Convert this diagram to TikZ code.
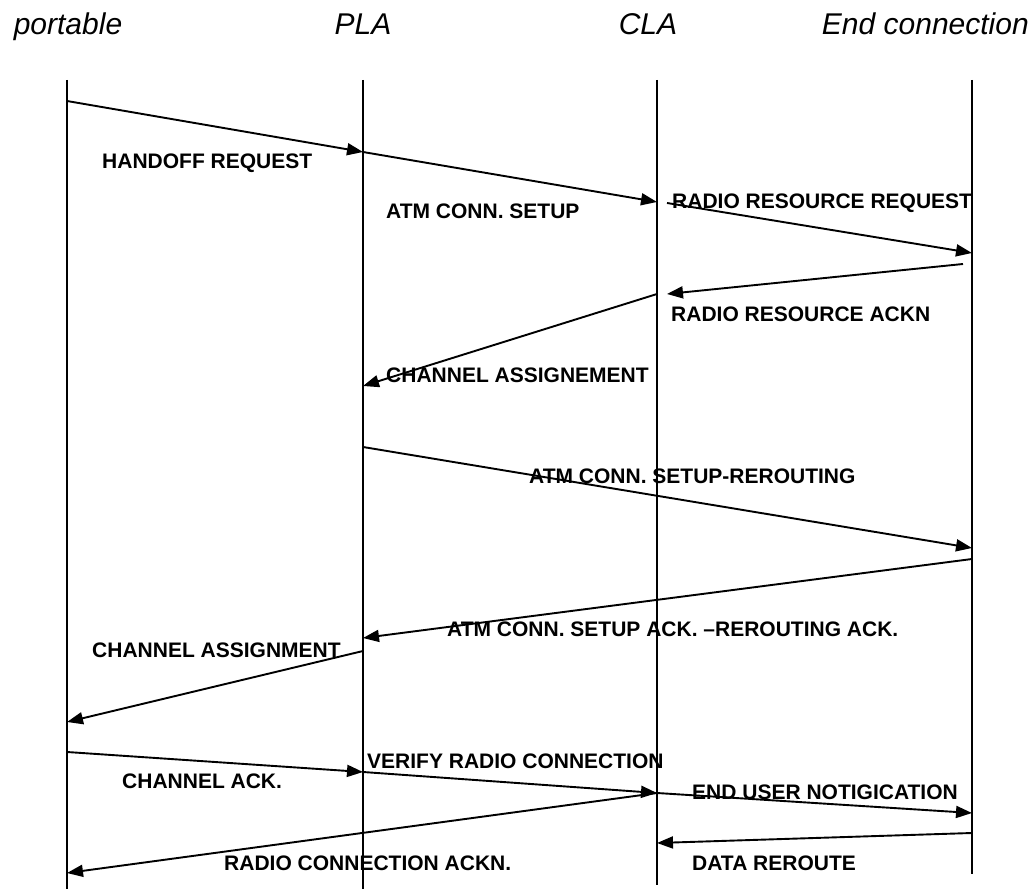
\documentclass[tikz,border=0pt]{standalone}
\usepackage{fontspec}
\setmainfont{Liberation Sans}
\usepackage{tikz}
\usetikzlibrary{arrows.meta}
\usetikzlibrary{calc}
\tikzstyle{actor} = [font=\fontsize{30}{30}\selectfont\itshape, inner sep=0pt, anchor=base]
\tikzstyle{msg} = [font=\fontsize{21}{21}\selectfont\bfseries, inner sep=0pt, anchor=base west]
\tikzstyle{lifeline} = [draw, line width=1.8pt]
\tikzstyle{line} = [draw, line width=1.9pt, -{Triangle[length=16pt, width=12pt]}]

\begin{document}
\begin{tikzpicture}[x=1pt, y=-1pt]
    \useasboundingbox (0,0) rectangle (1034,890);
    % Actors
    \node [actor] (portable) at (68,35) {portable};
    \node [actor] (pla) at (363,35) {PLA};
    \node [actor] (cla) at (648,35) {CLA};
    \node [actor, anchor=base east] (endconn) at (1029,35) {End connection};
    % Lifelines
    \coordinate (ptop) at (67,80);   \coordinate (pbot) at (67,889);
    \coordinate (platop) at (363,80); \coordinate (plabot) at (363,889);
    \coordinate (clatop) at (657,80); \coordinate (clabot) at (657,885);
    \coordinate (endtop) at (972,80); \coordinate (endbot) at (972,874);
    \path[lifeline] (ptop) -- (pbot);
    \path[lifeline] (platop) -- (plabot);
    \path[lifeline] (clatop) -- (clabot);
    \path[lifeline] (endtop) -- (endbot);
    % Message points
    \coordinate (p1) at (67,101);   \coordinate (pla1) at (363,152);
    \coordinate (cla1) at (657,202); \coordinate (cla2) at (667,203);
    \coordinate (end1) at (972,253); \coordinate (end2) at (963,264);
    \coordinate (cla3) at (667,294); \coordinate (cla4) at (657,294);
    \coordinate (pla2) at (363,386); \coordinate (pla3) at (363,447);
    \coordinate (end3) at (972,548); \coordinate (end4) at (972,559);
    \coordinate (pla4) at (363,638); \coordinate (pla5) at (363,651);
    \coordinate (p2) at (67,722);   \coordinate (p3) at (67,752);
    \coordinate (pla6) at (363,772); \coordinate (cla5) at (657,793);
    \coordinate (end5) at (972,813); \coordinate (p4) at (67,873);
    \coordinate (end6) at (972,833); \coordinate (cla6) at (657,843);
    % Draw edges
    \path[line] (p1) -- (pla1);
    \path[line] (pla1) -- (cla1);
    \path[line] (cla2) -- (end1);
    \path[line] (end2) -- (cla3);
    \path[line] (cla4) -- (pla2);
    \path[line] (pla3) -- (end3);
    \path[line] (end4) -- (pla4);
    \path[line] (pla5) -- (p2);
    \path[line] (p3) -- (pla6);
    \path[line] (pla6) -- (cla5);
    \path[line] (cla5) -- (end5);
    \path[line] (cla5) -- (p4);
    \path[line] (end6) -- (cla6);
    % Labels
    \node [msg] (handoff) at (102,169) {HANDOFF REQUEST};
    \node [msg] (setup) at (386,219) {ATM CONN. SETUP};
    \node [msg] (resreq) at (672,209) {RADIO RESOURCE REQUEST};
    \node [msg] (resack) at (671,322) {RADIO RESOURCE ACKN};
    \node [msg] (chassign) at (386,383) {CHANNEL ASSIGNEMENT};
    \node [msg] (reroute) at (529,484) {ATM CONN. SETUP-REROUTING};
    \node [msg] (rerouteack) at (447,636) {ATM CONN. SETUP ACK. –REROUTING ACK.};
    \node [msg] (chassign2) at (92,657) {CHANNEL ASSIGNMENT};
    \node [msg] (chack) at (122,788) {CHANNEL ACK.};
    \node [msg] (verify) at (367,768) {VERIFY RADIO CONNECTION};
    \node [msg] (notify) at (692,799) {END USER NOTIGICATION};
    \node [msg] (radioack) at (224,870) {RADIO CONNECTION ACKN.};
    \node [msg] (datare) at (692,870) {DATA REROUTE};
\end{tikzpicture}
\end{document}
